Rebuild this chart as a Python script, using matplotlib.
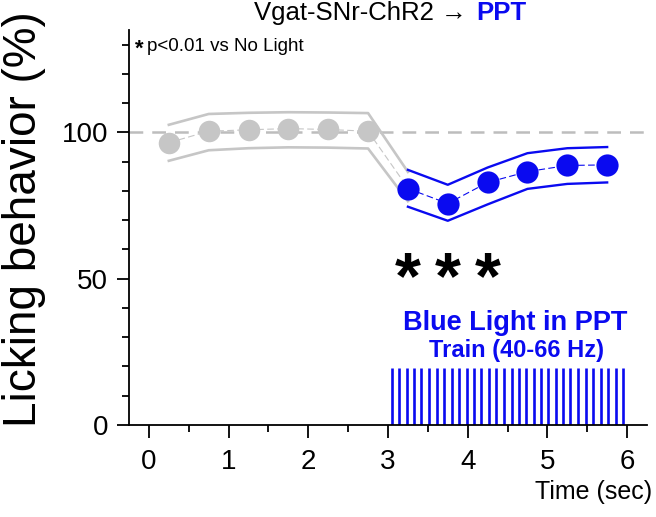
import matplotlib
matplotlib.use("Agg")
import matplotlib.pyplot as plt
from matplotlib.ticker import MultipleLocator

plt.rcParams['font.family'] = ['Liberation Sans', 'DejaVu Sans']
plt.rcParams['mathtext.fontset'] = 'custom'
plt.rcParams['mathtext.rm'] = 'Liberation Sans'
plt.rcParams['mathtext.bf'] = 'Liberation Sans:bold'

# No Light (gray) series, time in sec, licking in %
gray_time = [0.25, 0.75, 1.25, 1.75, 2.25, 2.75, 3.25]
gray_mean = [96.5, 100.4, 100.9, 101.3, 101.0, 100.4, 81.0]
gray_upper = [102.6, 106.3, 106.7, 106.9, 106.8, 106.6, 86.5]
gray_lower = [90.3, 93.9, 94.6, 94.9, 94.8, 94.5, 76.5]

# Blue light in PPT series
blue_time = [3.25, 3.75, 4.25, 4.75, 5.25, 5.75]
blue_mean = [80.8, 75.7, 82.9, 86.6, 88.7, 88.9]
blue_upper = [87.2, 82.1, 88.0, 92.9, 94.6, 95.0]
blue_lower = [74.6, 69.8, 75.4, 80.7, 82.4, 82.9]

# significant bins (p<0.01)
sig_time = [3.25, 3.75, 4.25]

# light pulses (train 40-66 Hz)
pulse_times = [3.05, 3.14, 3.24, 3.33, 3.42, 3.52, 3.61, 3.70, 3.80, 3.89,
               3.99, 4.08, 4.17, 4.27, 4.36, 4.45, 4.55, 4.64, 4.73, 4.83,
               4.92, 5.01, 5.11, 5.20, 5.29, 5.39, 5.48, 5.57, 5.67, 5.76,
               5.86, 5.95]
pulse_height = 19.5

GRAY = '#c6c6c6'
BLUE = '#0a0af0'

fig = plt.figure(figsize=(6.56, 5.17), dpi=100)
ax = fig.add_axes([129 / 656, 1 - 425 / 517, 518 / 656, 395 / 517])

ax.axhline(100, color='#bdbdbd', lw=1.8, linestyle=(0, (5.5, 3.6)), zorder=1)

# gray band + mean
ax.plot(gray_time, gray_upper, color=GRAY, lw=1.9, zorder=2)
ax.plot(gray_time, gray_lower, color=GRAY, lw=1.9, zorder=2)
ax.plot(gray_time, gray_mean, color=GRAY, lw=0.8, linestyle=(0, (6, 3)), zorder=2)
ax.plot(gray_time[:6], gray_mean[:6], 'o', color=GRAY, ms=15.5, mec='none', zorder=3)

# blue band + mean
ax.plot(blue_time, blue_upper, color=BLUE, lw=1.7, zorder=4)
ax.plot(blue_time, blue_lower, color=BLUE, lw=1.7, zorder=4)
ax.plot(blue_time, blue_mean, color=BLUE, lw=0.8, linestyle=(0, (6, 3)), zorder=4)
ax.plot(blue_time, blue_mean, 'o', color=BLUE, ms=16, mec='none', zorder=5)

ax.vlines(pulse_times, 0, pulse_height, color=BLUE, lw=1.9, zorder=2)

ax.set_xlim(-0.25, 6.25)
ax.set_ylim(0, 135)
ax.set_xticks([0, 1, 2, 3, 4, 5, 6])
ax.set_yticks([0, 50, 100])
ax.xaxis.set_minor_locator(MultipleLocator(0.5))
ax.yaxis.set_minor_locator(MultipleLocator(10))
ax.tick_params(which='major', length=9, width=1.3, labelsize=20, direction='out')
ax.tick_params(which='minor', length=5, width=1.3, direction='out')
ax.tick_params(axis='y', which='major', pad=6)
ax.tick_params(axis='x', which='major', pad=8)
for s in ['top', 'right']:
    ax.spines[s].set_visible(False)
for s in ['left', 'bottom']:
    ax.spines[s].set_linewidth(1.3)

# annotations
ax.text(-0.12, 128.5, '*', fontsize=16, fontweight='bold', ha='center', va='center')
ax.text(-0.03, 129.5, 'p<0.01 vs No Light', fontsize=13.5, ha='left', va='center')
for t in sig_time:
    ax.text(t, 49.5, r'$\mathbf{*}$', fontsize=48, ha='center', va='center')
ax.text(4.59, 34.7, 'Blue Light in PPT', fontsize=19.5, fontweight='bold',
        color=BLUE, ha='center', va='center')
ax.text(4.61, 25.5, 'Train (40-66 Hz)', fontsize=17, fontweight='bold',
        color=BLUE, ha='center', va='center')

# title and axis labels
fig.text(474 / 656, 1 - 13 / 517, 'Vgat-SNr-ChR2 \u2192 ', fontsize=18.5,
         ha='right', va='center')
fig.text(476 / 656, 1 - 13 / 517, 'PPT', fontsize=18.5, fontweight='bold',
         color=BLUE, ha='left', va='center')
fig.text(24 / 656, 1 - 219 / 517, 'Licking behavior (%)', fontsize=33,
         rotation=90, ha='center', va='center')
fig.text(652 / 656, 1 - 492 / 517, 'Time (sec)', fontsize=18,
         ha='right', va='center')

fig.savefig('out.png', dpi=100)
